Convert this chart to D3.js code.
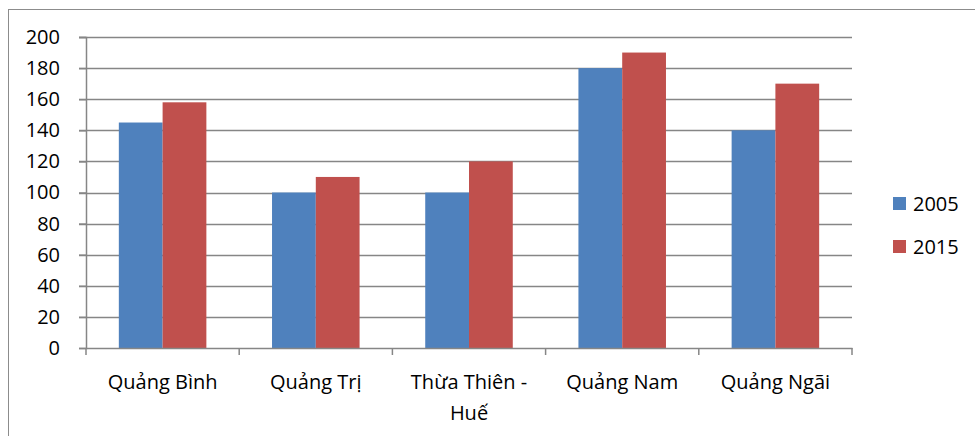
<!DOCTYPE html>
<html>
<head>
<meta charset="utf-8">
<script src="https://cdn.jsdelivr.net/npm/d3@7"></script>
<style>
  body { margin: 0; background: #fff; }
  text { font-family: "Open Sans", "Noto Sans", sans-serif; fill: #000; }
</style>
</head>
<body>
<div id="chart"></div>
<script>
// Data
var provinces = ["Quảng Bình", "Quảng Trị", "Thừa Thiên - Huế", "Quảng Nam", "Quảng Ngãi"];
var years = ["2005", "2015"];
var values2005 = [145, 100, 100, 180, 140];
var values2015 = [158, 110, 120, 190, 170];
var yTicks = [0, 20, 40, 60, 80, 100, 120, 140, 160, 180, 200];
var colors = ["#4F81BD", "#C0504D"];

function init() {
    var w = 975, h = 436;
    var left = 86, right = 852, top = 37, bottom = 348;
    var series = [values2005, values2015];

    var svg = d3.select("#chart").append("svg")
        .attr("width", w)
        .attr("height", h);

    // outer chart border
    svg.append("rect")
        .attr("x", 8.5).attr("y", 9.5)
        .attr("width", 1000).attr("height", 500)
        .attr("fill", "none")
        .attr("stroke", "#8c8c8c");

    var xScale = d3.scaleBand().domain(provinces).range([left, right]);
    var yScale = d3.scaleLinear().domain([0, 200]).range([bottom, top]);

    // gridlines
    svg.append("g").selectAll("line")
        .data(yTicks.filter(function(d) { return d > 0; }))
        .join("line")
        .attr("x1", left - 7).attr("x2", right)
        .attr("y1", function(d) { return Math.round(yScale(d)) + 0.5; })
        .attr("y2", function(d) { return Math.round(yScale(d)) + 0.5; })
        .attr("stroke", "#868686")
        .attr("stroke-width", 1.5);

    // bars: Excel gap width 150% -> each bar = band / 3.5
    var barW = xScale.bandwidth() / 3.5;
    years.forEach(function(yr, i) {
        svg.append("g").selectAll("rect")
            .data(series[i])
            .join("rect")
            .attr("x", function(d, j) { return xScale(provinces[j]) + barW * 0.75 + i * barW; })
            .attr("y", function(d) { return yScale(d); })
            .attr("width", barW)
            .attr("height", function(d) { return yScale(0) - yScale(d); })
            .attr("fill", colors[i]);
    });

    // y axis
    var yAxis = d3.axisLeft(yScale).tickValues(yTicks).tickSize(7).tickPadding(19);
    var gy = svg.append("g")
        .attr("transform", "translate(" + left + ",0)")
        .call(yAxis);
    gy.select(".domain").attr("stroke", "#868686").attr("stroke-width", 1.5);
    gy.selectAll(".tick line").attr("stroke", "#868686").attr("stroke-width", 1.5);
    gy.selectAll("text").style("font-size", "20px").attr("fill", "#000")
        .style("font-family", "'Open Sans', sans-serif");

    // x axis
    var xAxis = d3.axisBottom(xScale).tickSize(0).tickFormat("");
    var gx = svg.append("g")
        .attr("transform", "translate(0," + bottom + ")")
        .call(xAxis);
    gx.select(".domain").attr("stroke", "#868686").attr("stroke-width", 1.5);
    gx.selectAll(".tick").remove();

    // category boundary ticks
    var bounds = provinces.map(function(p) { return xScale(p); }).concat([right]);
    svg.append("g").selectAll("line")
        .data(bounds)
        .join("line")
        .attr("x1", function(d) { return d; }).attr("x2", function(d) { return d; })
        .attr("y1", bottom).attr("y2", bottom + 7)
        .attr("stroke", "#868686")
        .attr("stroke-width", 1.5);

    // category labels (wrap the long one like Excel)
    var labelLines = {"Thừa Thiên - Huế": ["Thừa Thiên -", "Huế"]};
    provinces.forEach(function(p) {
        var lines = labelLines[p] || [p];
        var t = svg.append("text")
            .attr("text-anchor", "middle")
            .style("font-size", "20px");
        lines.forEach(function(line, k) {
            t.append("tspan")
                .attr("x", xScale(p) + xScale.bandwidth() / 2)
                .attr("y", 389 + k * 31)
                .text(line);
        });
    });

    // legend
    var legend = svg.append("g");
    years.forEach(function(yr, i) {
        legend.append("rect")
            .attr("x", 893).attr("y", 197 + i * 43)
            .attr("width", 13).attr("height", 13)
            .attr("fill", colors[i]);
        legend.append("text")
            .attr("x", 913).attr("y", 211 + i * 43)
            .style("font-size", "20px")
            .text(yr);
    });
}

window.onload = init;
</script>
</body>
</html>
